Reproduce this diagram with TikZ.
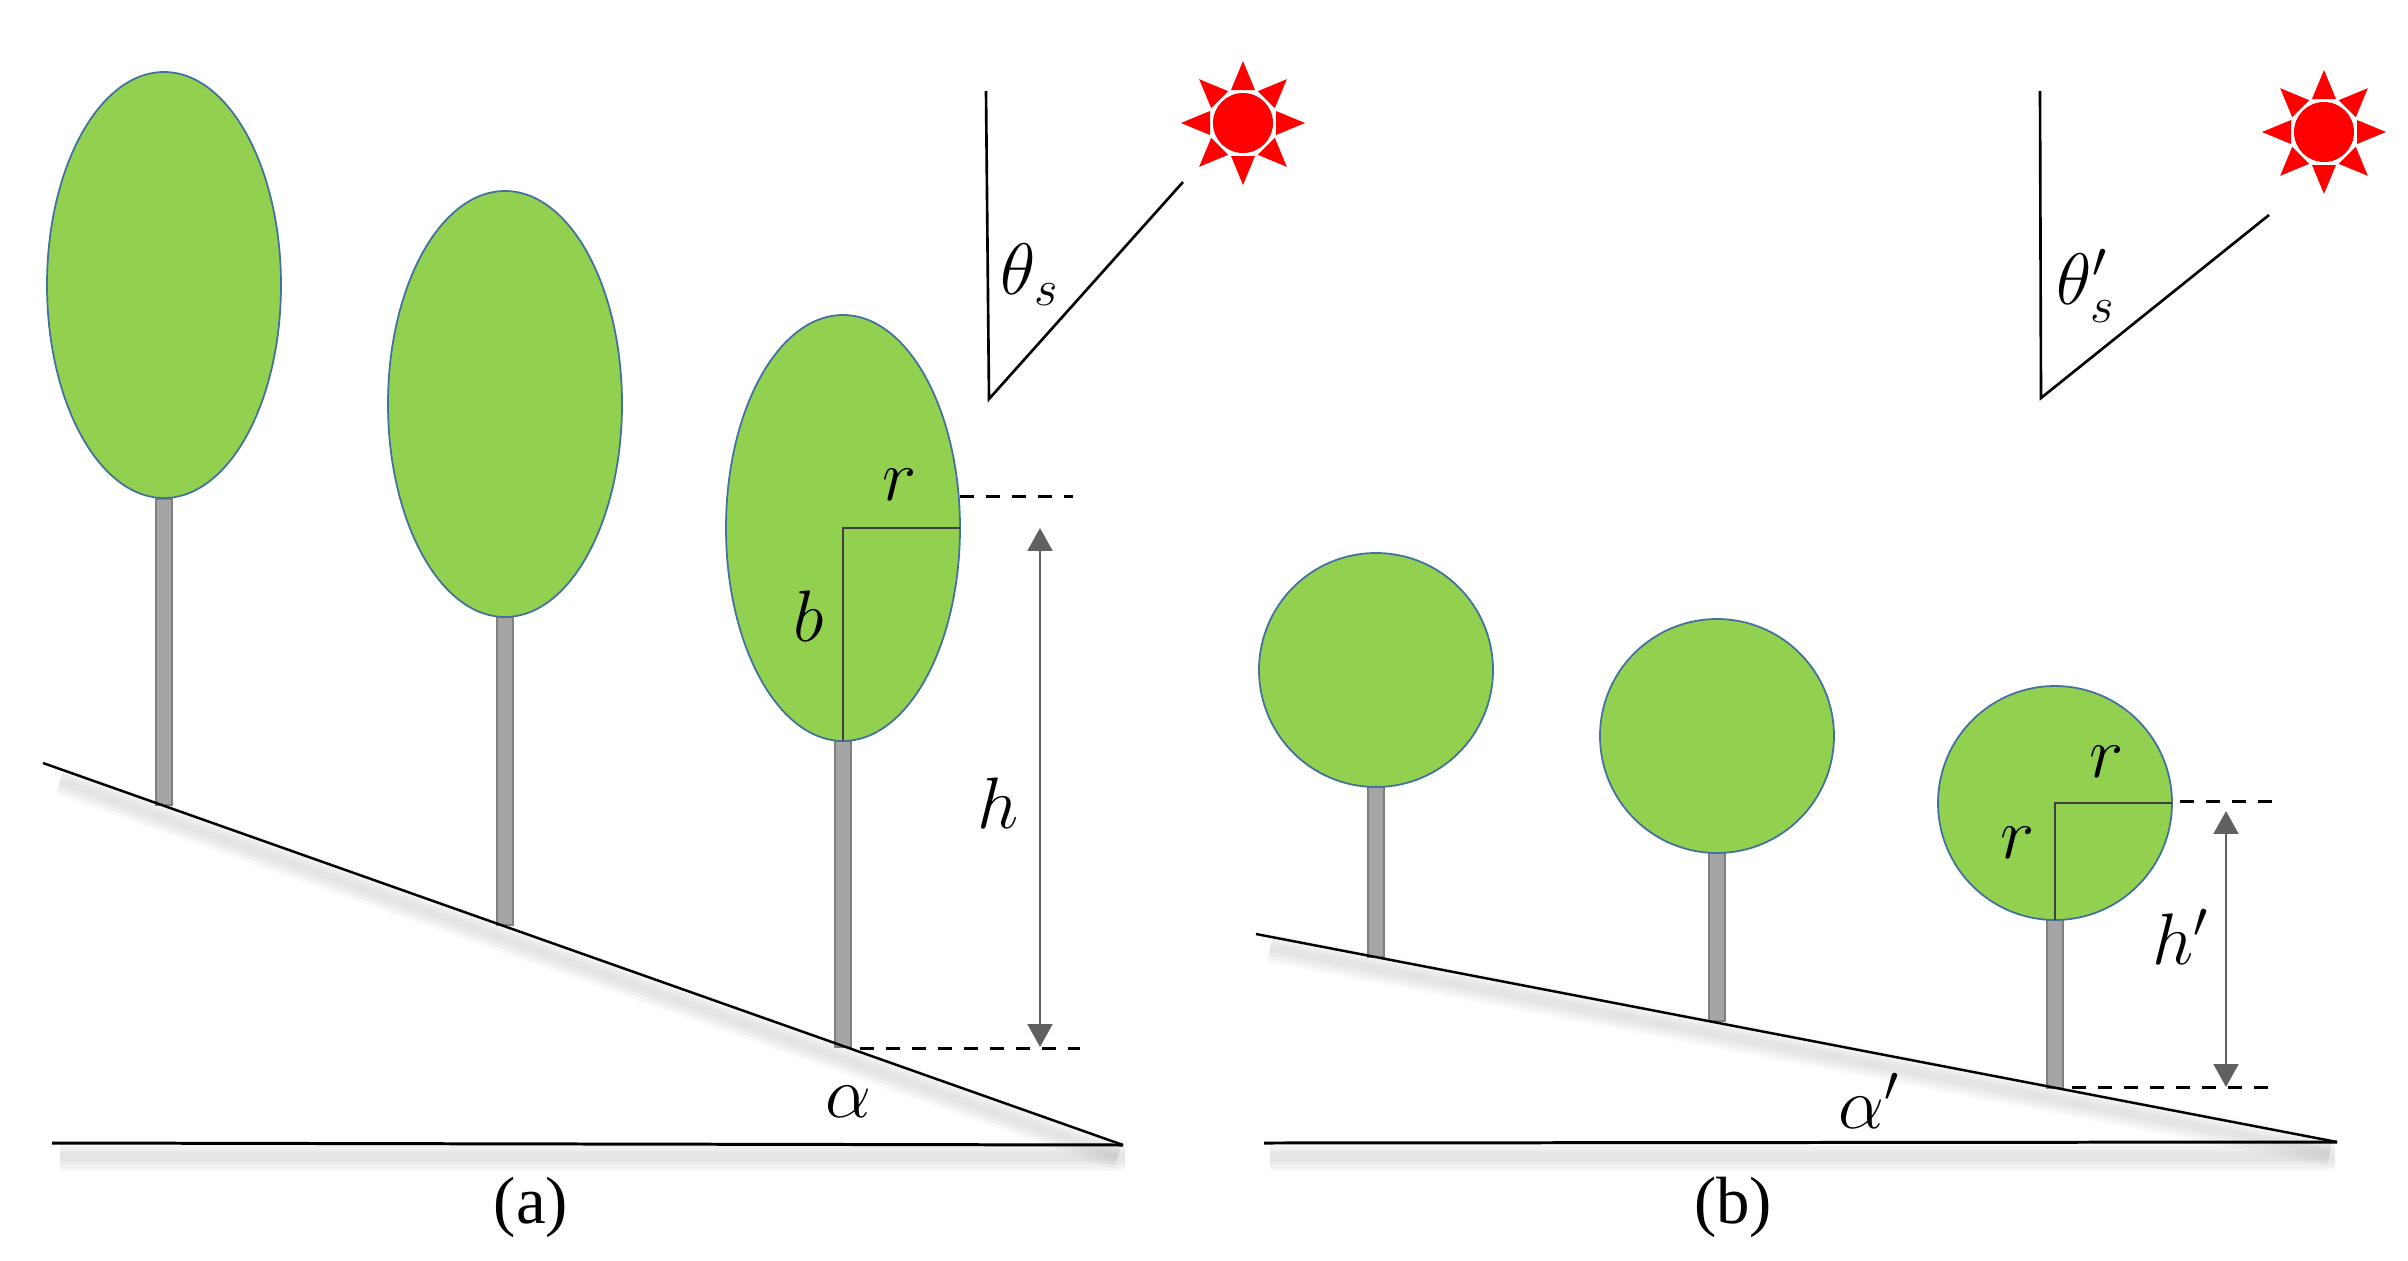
\documentclass[tikz,border=0pt]{standalone}
\usepackage{fontspec}
\setmainfont{Liberation Serif}
\usetikzlibrary{arrows.meta}
\definecolor{crowngreen}{HTML}{92D050}
\definecolor{crownedge}{HTML}{41719C}
\definecolor{trunkfill}{HTML}{A5A5A5}
\definecolor{trunkedge}{HTML}{7F7F7F}
\definecolor{dimgray}{HTML}{606060}
\tikzset{
    crown/.style={fill=crowngreen, draw=crownedge, line width=0.5pt},
    trunk/.style={fill=trunkfill, draw=trunkedge, line width=0.6pt},
    ground/.style={black, line width=0.85pt},
    slope/.style={black, line width=0.7pt},
    shade/.style={gray, opacity=0.06},
    radius line/.style={draw=black!75, line width=0.7pt},
    level/.style={black, dash pattern=on 4pt off 3.4pt, line width=0.85pt},
    dimension/.style={dimgray, line width=0.8pt, {Triangle[length=6.5pt,width=7pt]}-{Triangle[length=6.5pt,width=7pt]}},
    mathlabel/.style={inner sep=0pt, font=\fontsize{20}{24}\selectfont},
    caption/.style={inner sep=0pt, font=\fontsize{19}{23}\selectfont},
    sunmark/.pic={
        \fill[red] (0,0) circle (30);
        \foreach \ang in {0,45,...,315}
            \fill[red, rotate=\ang] (33,-12) -- (62,0) -- (33,12) -- cycle;
    }
}
\begin{document}
\begin{tikzpicture}[x=0.01cm, y=-0.01cm]
    \useasboundingbox (0,0) rectangle (2408,1260);

    % shadows under the slopes
    \foreach \w in {2,4,6,8} {
        \draw[shade, line width=\w pt] (60,781) -- (1118,1156);
        \draw[shade, line width=\w pt] (60,1157) -- (1125,1157);
        \draw[shade, line width=\w pt] (1270,948) -- (2330,1152);
        \draw[shade, line width=\w pt] (1270,1157) -- (2335,1157);
    }

    % panel a
    \draw[trunk] (156,499) rectangle (172,805);
    \draw[trunk] (497,617) rectangle (513,925);
    \draw[trunk] (835,741) rectangle (851,1047);
    \draw[crown] (164,285) ellipse (117 and 213);
    \draw[crown] (505,404) ellipse (117 and 213);
    \draw[crown] (843,528) ellipse (117 and 213);
    \coordinate (slopeTopA) at (43,763);
    \coordinate (slopeEndA) at (1123,1145);
    \coordinate (groundA) at (52,1143);
    \draw[slope] (slopeTopA) -- (slopeEndA);
    \draw[ground] (groundA) -- (slopeEndA);
    \draw[radius line] (960,528) -- (843,528) -- (843,741);
    \draw[level] (960,496) -- (1073,496);
    \draw[level] (860,1048) -- (1080,1048);
    \draw[dimension] (1040,528) -- (1040,1047);
    \draw[black, line width=0.75pt] (986,91) -- (989,399) -- (1183,182);
    \pic at (1243,123) {sunmark};

    \node[mathlabel] (thetaA) at (1030,275) {$\theta_s$};
    \node[mathlabel] (radA) at (900,485) {$r$};
    \node[mathlabel] (semiA) at (809,616) {$b$};
    \node[mathlabel] (heightA) at (998,803) {$h$};
    \node[mathlabel] (alphaA) at (848,1102) {$\alpha$};
    \node[caption] (capA) at (531,1207) {(a)};

    % panel b
    \draw[trunk] (1368,780) rectangle (1384,957);
    \draw[trunk] (1709,845) rectangle (1725,1021);
    \draw[trunk] (2047,915) rectangle (2063,1088);
    \draw[crown] (1376,670) circle (117);
    \draw[crown] (1717,736) circle (117);
    \draw[crown] (2055,803) circle (117);
    \coordinate (slopeTopB) at (1256,934);
    \coordinate (slopeEndB) at (2337,1142);
    \coordinate (groundB) at (1264,1143);
    \draw[slope] (slopeTopB) -- (slopeEndB);
    \draw[ground] (groundB) -- (slopeEndB);
    \draw[radius line] (2172,803) -- (2055,803) -- (2055,920);
    \draw[level] (2180,801) -- (2275,801);
    \draw[level] (2072,1087) -- (2270,1087);
    \draw[dimension] (2226,811) -- (2226,1087);
    \draw[black, line width=0.75pt] (2040,91) -- (2041,398) -- (2269,215);
    \pic at (2324,132) {sunmark};

    \node[mathlabel] (thetaB) at (2086,286) {$\theta_s'$};
    \node[mathlabel] (radB) at (2107,762) {$r$};
    \node[mathlabel] (semiB) at (2018,843) {$r$};
    \node[mathlabel] (heightB) at (2181,937) {$h'$};
    \node[mathlabel] (alphaB) at (1869,1101) {$\alpha'$};
    \node[caption] (capB) at (1733,1207) {(b)};
\end{tikzpicture}
\end{document}
